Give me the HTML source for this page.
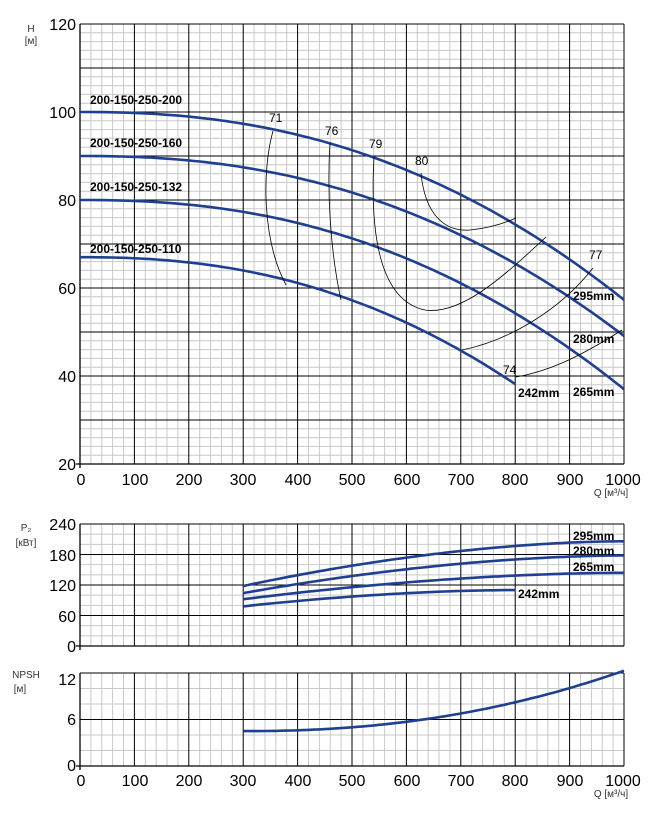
<!DOCTYPE html>
<html><head><meta charset="utf-8"><style>
body{margin:0;background:#fff;}
svg{display:block;font-family:"Liberation Sans","DejaVu Sans",sans-serif;}
</style></head><body>
<svg id="s" width="656" height="818" viewBox="0 0 656 818" xmlns="http://www.w3.org/2000/svg">
<g id="g"></g>
<g font-size="16" fill="#000" text-anchor="end">
<text x="76" y="30">120</text><text x="76" y="118">100</text><text x="76" y="206">80</text><text x="76" y="294">60</text><text x="76" y="382">40</text><text x="76" y="470">20</text>
<text x="76" y="530">240</text><text x="76" y="561">180</text><text x="76" y="591">120</text><text x="76" y="622">60</text><text x="76" y="652">0</text>
<text x="76" y="685">12</text><text x="76" y="725">6</text><text x="76" y="771">0</text>
</g>
<g font-size="16" text-anchor="middle">
<text x="81" y="485">0</text><text x="135" y="485">100</text><text x="189" y="485">200</text><text x="243" y="485">300</text><text x="298" y="485">400</text><text x="352" y="485">500</text><text x="407" y="485">600</text><text x="461" y="485">700</text><text x="515" y="485">800</text><text x="570" y="485">900</text><text x="623" y="485">1000</text>
<text x="81" y="786">0</text><text x="135" y="786">100</text><text x="189" y="786">200</text><text x="243" y="786">300</text><text x="298" y="786">400</text><text x="352" y="786">500</text><text x="407" y="786">600</text><text x="461" y="786">700</text><text x="515" y="786">800</text><text x="570" y="786">900</text><text x="623" y="786">1000</text>
</g>
<g font-size="10" fill="#333" text-anchor="middle">
<text x="31" y="32">H</text><text x="31" y="44">[м]</text>
<text x="26" y="531">P₂</text><text x="26" y="546">[кВт]</text>
<text x="26" y="678">NPSH</text><text x="20" y="692">[м]</text>
<text x="611" y="496">Q [м³/ч]</text><text x="611" y="797">Q [м³/ч]</text>
</g>
<g font-size="12" font-weight="bold" fill="#000">
<text x="90" y="104">200-150-250-200</text><text x="90" y="147">200-150-250-160</text><text x="90" y="191">200-150-250-132</text><text x="90" y="253">200-150-250-110</text>
<text x="573" y="300">295mm</text><text x="573" y="343">280mm</text><text x="573" y="396">265mm</text><text x="518" y="397">242mm</text>
<text x="573" y="540">295mm</text><text x="573" y="555">280mm</text><text x="573" y="571">265mm</text><text x="518" y="598">242mm</text>
</g>
<g font-size="12" fill="#000">
<text x="269" y="122">71</text><text x="325" y="135">76</text><text x="369" y="148">79</text><text x="415" y="165">80</text><text x="589" y="259">77</text><text x="503" y="374">74</text>
</g>
<g fill="none" stroke="#000" stroke-width="0.8">
<path d="M273,131 C262,170 262,240 286,285"/>
<path d="M330,143 C327,190 330,250 341,300"/>
<path d="M374,157 C370,230 378,300 425,310 C460,315 500,280 546,237"/>
<path d="M421,173 C425,215 445,232 470,230 C490,228 505,223 516,218"/>
<path d="M462,350 C510,340 560,310 593,268"/>
<path d="M516,377 C545,372 575,360 622,330"/>
</g>
</svg>
<script>
var g=document.getElementById('g'),h='';
function L(x1,y1,x2,y2,c,w){h+='<line x1="'+x1+'" y1="'+y1+'" x2="'+x2+'" y2="'+y2+'" stroke="'+c+'" stroke-width="'+w+'"/>';}
var X0=80,X1=624,kx=(X1-X0)/1000;
function grid(top,bot,nMaj,nMin){
 for(var i=1;i<50;i++){var x=X0+i*kx*20;if(i%5)L(x,top,x,bot,'#c8c8c8',1);}
 var n=nMaj*nMin;for(var j=1;j<n;j++){var y=top+(bot-top)*j/n;if(j%nMin)L(X0,y,X1,y,'#c8c8c8',1);}
 for(var i=1;i<=10;i++){var x=X0+i*100*kx;L(x,top,x,bot,'#000',1);}
 for(var j=0;j<nMaj;j++){var y=top+(bot-top)*j/nMaj;L(X0,y,X1,y,'#000',1);}
 L(X0,top,X0,bot+4,'#000',1.3);L(X0-4,bot,X1,bot,'#000',1.3);
}
grid(24,464,10,5);grid(524,646,4,3);grid(673,766,2,3);
function curve(f,q0,q1){var p='';for(var q=q0;q<=q1+0.1;q+=10){var v=f(q);p+=(p?'L':'M')+(X0+q*kx).toFixed(1)+','+v.toFixed(1)+' ';}
 h+='<path d="'+p+'" fill="none" stroke="#1f3f91" stroke-width="2.6"/>';}
function H(h0,c){return function(q){var v=h0-c*Math.pow(q/1000,2.3);return 24+(120-v)*4.4;};}
curve(H(100,42.7),0,1000);curve(H(90,40.9),0,1000);curve(H(80,43),0,1000);curve(H(67,48.2),0,800);
function P(a,b,q1){return function(q){var t=(q-300)/(q1-300);var v=a+(b-a)*(1-Math.pow(1-t,1.8));return 646-v*122/240;};}
curve(P(118,206,1000),300,1000);curve(P(104,178,1000),300,1000);curve(P(92,144,1000),300,1000);curve(P(78,110,800),300,800);
curve(function(q){var t=(q-300)/700;var v=4.5+7.8*Math.pow(t,2.2);return 766-v*93/12;},300,1000);
g.innerHTML=h;
</script>
</body></html>
